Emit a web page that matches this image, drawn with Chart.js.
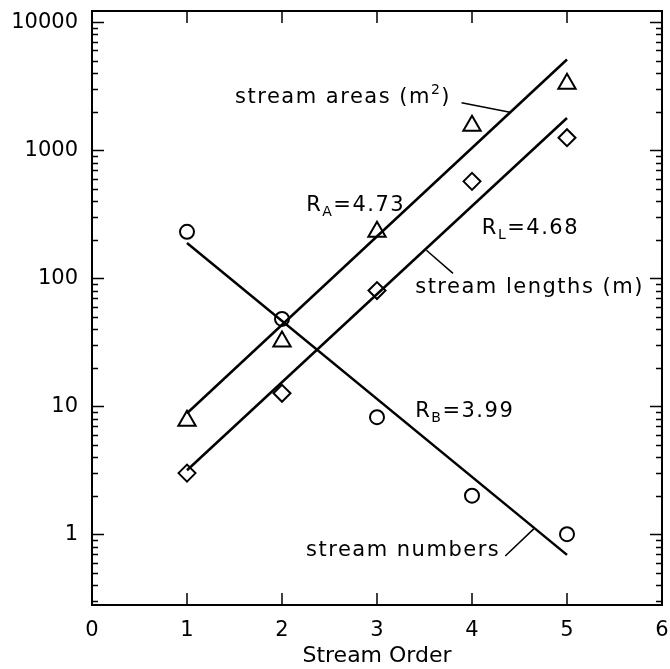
<!DOCTYPE html>
<html>
<head>
<meta charset="utf-8">
<script src="https://cdn.jsdelivr.net/npm/chart.js@4.4.1/dist/chart.umd.min.js"></script>
<style>
  html, body { margin: 0; padding: 0; background: #fff; }
  #wrap { width: 670px; height: 669px; }
</style>
</head>
<body>
<div id="wrap"><canvas id="chart" width="670" height="669"></canvas></div>
<script>
// measured values per stream order
const orders = [1, 2, 3, 4, 5];
const streamNumbers = [230, 48, 8.2, 2.0, 1.0];
const streamAreas = [7.7, 32, 230, 1550, 3300];
const streamLengths = [3.0, 12.6, 80, 570, 1250];

// fitted Horton lines (end points)
const fitOrders = [1, 5];
const fitNumbers = [188, 0.69];
const fitAreas = [8.8, 5100];
const fitLengths = [3.16, 1780];

// leader lines from labels to the fits
const leadAreasX = [3.89, 4.40];
const leadAreasY = [2345, 1975];
const leadLengthsX = [3.52, 3.80];
const leadLengthsY = [165, 109];
const leadNumbersX = [4.35, 4.65];
const leadNumbersY = [0.676, 1.1];

const xTicks = [0, 1, 2, 3, 4, 5, 6];
const yTicks = [1, 10, 100, 1000, 10000];

const FONT = "'DejaVu Sans', sans-serif";

const toPoints = (xs, ys) => xs.map((x, i) => ({ x, y: ys[i] }));

// text labels, placed in data coordinates
const notes = [
  { x: 1.506, y: 2333, parts: [{ t: 'stream areas (m' }, { t: '2', sup: true }, { t: ')' }] },
  { x: 2.254, y: 336, parts: [{ t: 'R' }, { t: 'A', sub: true }, { t: '=4.73' }] },
  { x: 4.103, y: 221, parts: [{ t: 'R' }, { t: 'L', sub: true }, { t: '=4.68' }] },
  { x: 3.402, y: 76, parts: [{ t: 'stream lengths (m)' }] },
  { x: 3.402, y: 8.19, parts: [{ t: 'R' }, { t: 'B', sub: true }, { t: '=3.99' }] },
  { x: 4.297, y: 0.676, align: 'right', parts: [{ t: 'stream numbers' }] }
];

const notesPlugin = {
  id: 'notes',
  afterDraw(chart) {
    const { ctx, scales: { x, y } } = chart;
    ctx.save();
    ctx.fillStyle = '#000';
    ctx.textBaseline = 'alphabetic';
    ctx.textAlign = 'left';
    ctx.letterSpacing = '1.5px';
    notes.forEach(n => {
      const fontFor = p => (p.sub || p.sup ? '14px ' : '21px ') + FONT;
      let total = 0;
      n.parts.forEach(p => { ctx.font = fontFor(p); total += ctx.measureText(p.t).width; });
      let px = x.getPixelForValue(n.x);
      if (n.align === 'right') px -= total;
      const py = y.getPixelForValue(n.y);
      n.parts.forEach(p => {
        ctx.font = fontFor(p);
        const dy = p.sub ? 5 : p.sup ? -9 : 0;
        ctx.fillText(p.t, px, py + dy);
        px += ctx.measureText(p.t).width;
      });
    });
    ctx.restore();
  }
};

const framePlugin = {
  id: 'frame',
  afterDraw(chart) {
    const { ctx, chartArea: a, scales: { x, y } } = chart;
    ctx.save();
    ctx.strokeStyle = '#000';
    ctx.lineWidth = 2;
    ctx.strokeRect(a.left, a.top, a.right - a.left, a.bottom - a.top);
    ctx.lineWidth = 1.5;
    ctx.beginPath();
    xTicks.slice(1, -1).forEach(v => {
      const px = x.getPixelForValue(v);
      ctx.moveTo(px, a.bottom); ctx.lineTo(px, a.bottom - 12);
      ctx.moveTo(px, a.top); ctx.lineTo(px, a.top + 12);
    });
    for (let d = -1; d <= 4; d++) {
      for (let m = 1; m <= 9; m++) {
        const v = m * Math.pow(10, d);
        if (v < y.min || v > y.max) continue;
        const py = Math.round(y.getPixelForValue(v)) + 0.5;
        const len = m === 1 ? 12 : 6;
        ctx.moveTo(a.left, py); ctx.lineTo(a.left + len, py);
        ctx.moveTo(a.right, py); ctx.lineTo(a.right - len, py);
      }
    }
    ctx.stroke();
    ctx.restore();
  }
};

const lineSet = (xs, ys, w) => ({
  data: toPoints(xs, ys),
  showLine: true,
  borderColor: '#000',
  borderWidth: w,
  pointRadius: 0,
  fill: false
});

const markSet = (ys, style, r) => ({
  data: toPoints(orders, ys),
  showLine: false,
  pointStyle: style,
  pointRadius: r,
  pointBorderWidth: 2,
  pointBorderColor: '#000',
  pointBackgroundColor: 'rgba(0,0,0,0)'
});

new Chart(document.getElementById('chart'), {
  type: 'scatter',
  data: {
    datasets: [
      lineSet(fitOrders, fitNumbers, 2.5),
      lineSet(fitOrders, fitAreas, 2.5),
      lineSet(fitOrders, fitLengths, 2.5),
      lineSet(leadAreasX, leadAreasY, 1.5),
      lineSet(leadLengthsX, leadLengthsY, 1.5),
      lineSet(leadNumbersX, leadNumbersY, 1.5),
      markSet(streamNumbers, 'circle', 7),
      markSet(streamAreas, 'triangle', 10),
      markSet(streamLengths, 'rectRot', 8.5)
    ]
  },
  options: {
    responsive: false,
    animation: false,
    layout: { autoPadding: false, padding: { top: 11, right: 8, left: 0, bottom: 0 } },
    plugins: { legend: { display: false }, tooltip: { enabled: false } },
    scales: {
      x: {
        type: 'linear',
        min: 0,
        max: 6,
        afterBuildTicks: s => { s.ticks = xTicks.map(v => ({ value: v })); },
        afterFit: s => { s.height = 64; s.paddingLeft = 0; s.paddingRight = 0; },
        grid: { display: false },
        border: { display: false },
        ticks: { color: '#000', font: { family: FONT, size: 21 }, padding: 5, autoSkip: false, maxRotation: 0 },
        title: { display: true, text: 'Stream Order', color: '#000', font: { family: FONT, size: 22 }, padding: { top: 0, bottom: 0 } }
      },
      y: {
        type: 'logarithmic',
        min: 0.28,
        max: 12200,
        afterBuildTicks: s => { s.ticks = yTicks.map(v => ({ value: v })); },
        afterFit: s => { s.width = 92; s.paddingTop = 0; s.paddingBottom = 0; },
        grid: { display: false },
        border: { display: false },
        ticks: { color: '#000', font: { family: FONT, size: 21 }, padding: 6, autoSkip: false, callback: v => String(v) }
      }
    }
  },
  plugins: [framePlugin, notesPlugin]
});
</script>
</body>
</html>
